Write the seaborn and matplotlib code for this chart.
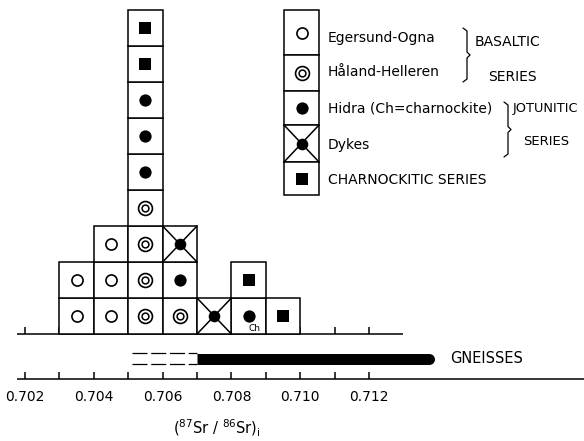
import numpy as np
import pandas as pd
import matplotlib
matplotlib.use("Agg")
import matplotlib.pyplot as plt
import seaborn as sns

# initial 87Sr/86Sr ratio of each sample, given as the left edge of its 0.001 bin
egersund_ogna = [0.703, 0.703, 0.704, 0.704, 0.704]
haland_helleren = [0.705, 0.705, 0.705, 0.705, 0.706]
hidra = [0.705, 0.705, 0.705, 0.706, 0.708]
hidra_notes = ["", "", "", "", "Ch"]
dykes = [0.706, 0.707]
charnockitic = [0.705, 0.705, 0.708, 0.709]

series_keys = ["egersund", "haland", "hidra", "dykes", "charno"]
series_labels = ["Egersund-Ogna", "Håland-Helleren", "Hidra (Ch=charnockite)",
                 "Dykes", "CHARNOCKITIC SERIES"]

# gneiss range (solid) and uncertain extension (dashed)
gneiss_solid = [0.707, 0.7139]
gneiss_dashed = [0.7051, 0.707]

tick_values = [0.702, 0.703, 0.704, 0.705, 0.706, 0.707, 0.708, 0.709, 0.710, 0.711, 0.712]
label_values = [0.702, 0.704, 0.706, 0.708, 0.710, 0.712]
tick_labels = ["0.702", "0.704", "0.706", "0.708", "0.710", "0.712"]

BIN = 0.001

# ---------- build the stacked table ----------
parts = []
for key, vals in zip(series_keys, [egersund_ogna, haland_helleren, hidra, dykes, charnockitic]):
    d = pd.DataFrame({"left": vals, "series": key})
    d["note"] = hidra_notes if key == "hidra" else ""
    parts.append(d)
df = pd.concat(parts, ignore_index=True)
df["row"] = df.groupby("left").cumcount()
df["x"] = df["left"] + BIN / 2
df["y"] = df["row"] + 0.5

# ---------- figure in pixel-like layout ----------
sns.set_theme(style="white")
plt.rcParams["font.family"] = ["DejaVu Sans"]
plt.rcParams["text.color"] = "black"
plt.rcParams["mathtext.fontset"] = "dejavusans"

fig = plt.figure(figsize=(5.84, 4.41), dpi=100)
ax = fig.add_axes([0, 0, 1, 1])
ax.set_xlim(0.701273, 0.718250)
ax.set_ylim(-2.972, 9.278)
ax.axis("off")

PX_X = 34400.0   # pixels per unit ratio
PX_Y = 36.0      # pixels per row


def px2x(p):
    return 0.702 + (p - 25) / PX_X


def px2y(p):
    return (334 - p) / PX_Y


LW = 1.1
style = {
    "egersund": dict(marker="o", s=64, facecolor="white", edgecolor="black", linewidth=1.2),
    "haland": dict(marker="o", s=100, facecolor="white", edgecolor="black", linewidth=1.2),
    "hidra": dict(marker="o", s=78, color="black", edgecolor="black", linewidth=0),
    "dykes": dict(marker="o", s=70, color="black", edgecolor="black", linewidth=0),
    "charno": dict(marker="s", s=64, color="black", edgecolor="black", linewidth=0),
}
inner_ring = dict(marker="o", s=24, facecolor="white", edgecolor="black", linewidth=1.1)


def draw_symbols(sub, key):
    sns.scatterplot(data=sub, x="x", y="y", ax=ax, legend=False, zorder=4, **style[key])
    if key == "haland":
        sns.scatterplot(data=sub, x="x", y="y", ax=ax, legend=False, zorder=5, **inner_ring)
    if key == "dykes":
        for _, r in sub.iterrows():
            x0, x1 = r["x"] - r["w"] / 2, r["x"] + r["w"] / 2
            y0, y1 = r["y"] - r["h"] / 2, r["y"] + r["h"] / 2
            ax.plot([x0, x1], [y0, y1], color="black", lw=LW, zorder=3)
            ax.plot([x0, x1], [y1, y0], color="black", lw=LW, zorder=3)


# upper baseline with ticks (mostly hidden behind the boxes)
ax.hlines(0, px2x(17), px2x(403), color="black", lw=LW, zorder=1)
ax.vlines(tick_values, 0, 0.2, color="black", lw=LW, zorder=1)

# sample boxes
ax.bar(df["left"], 1, width=BIN, bottom=df["row"], align="edge",
       facecolor="white", edgecolor="black", linewidth=LW, zorder=2)
df["w"] = BIN
df["h"] = 1.0
for key in series_keys:
    draw_symbols(df[df["series"] == key], key)
for _, r in df[df["note"] != ""].iterrows():
    ax.text(r["x"] + 0.00016, r["y"] - 0.36, r["note"], fontsize=6.5,
            ha="center", va="center", zorder=6)

# ---------- legend ----------
leg_edges = [10, 55, 91, 125, 162, 195]
leg_text_y = [38, 72, 108, 145, 180]
lx0, lx1 = px2x(284), px2x(319)
leg = pd.DataFrame({"series": series_keys, "label": series_labels})
leg["top"] = [px2y(p) for p in leg_edges[:-1]]
leg["bottom"] = [px2y(p) for p in leg_edges[1:]]
leg["x"] = (lx0 + lx1) / 2
leg["y"] = (leg["top"] + leg["bottom"]) / 2
leg["w"] = lx1 - lx0
leg["h"] = leg["top"] - leg["bottom"]
ax.bar(np.full(len(leg), lx0), leg["h"], width=leg["w"], bottom=leg["bottom"], align="edge",
       facecolor="white", edgecolor="black", linewidth=LW, zorder=2)
for key in series_keys:
    draw_symbols(leg[leg["series"] == key], key)
for lab, ty in zip(series_labels, leg_text_y):
    ax.text(px2x(328), px2y(ty), lab, fontsize=10, ha="left", va="center")


def bracket(xp, top, bot):
    mid = (top + bot) / 2
    xs = [xp, xp + 4, xp + 4, xp + 7, xp + 4, xp + 4, xp]
    ys = [top, top + 3, mid - 3, mid, mid + 3, bot - 3, bot]
    ax.plot([px2x(v) for v in xs], [px2y(v) for v in ys], color="black", lw=0.9)


bracket(463, 28, 82)
bracket(504, 102, 157)
ax.text(px2x(475), px2y(42), "BASALTIC", fontsize=10, ha="left", va="center")
ax.text(px2x(488), px2y(77), "SERIES", fontsize=10, ha="left", va="center")
ax.text(px2x(513), px2y(108), "JOTUNITIC", fontsize=9.3, ha="left", va="center")
ax.text(px2x(523), px2y(141), "SERIES", fontsize=9.5, ha="left", va="center")

# ---------- gneisses ----------
gy = px2y(358.5)
cap = 5.5 / PX_X
ax.plot([gneiss_solid[0], gneiss_solid[1] - cap], [gy, gy], color="black", lw=7.9,
        solid_capstyle="butt")
ax.scatter([gneiss_solid[1] - cap], [gy], s=62, color="black", linewidths=0)
for yy in [px2y(353), px2y(363.5)]:
    ax.plot(gneiss_dashed, [yy, yy], color="black", lw=0.9, linestyle=(0, (12, 3)))
ax.text(px2x(450), gy, "GNEISSES", fontsize=10.5, ha="left", va="center")

# ---------- lower axis ----------
ay = px2y(379)
ax.hlines(ay, px2x(17), 0.71825, color="black", lw=LW)
ax.vlines(tick_values, ay, ay + 0.2, color="black", lw=LW)
for v, t in zip(label_values, tick_labels):
    ax.text(v, px2y(397), t, fontsize=10, ha="center", va="center")
ax.text(px2x(217), px2y(428), r"$(^{87}\mathrm{Sr}\ /\ ^{86}\mathrm{Sr})_{\mathrm{i}}$",
        fontsize=10.5, ha="center", va="center")

fig.savefig("out.png", dpi=100)
